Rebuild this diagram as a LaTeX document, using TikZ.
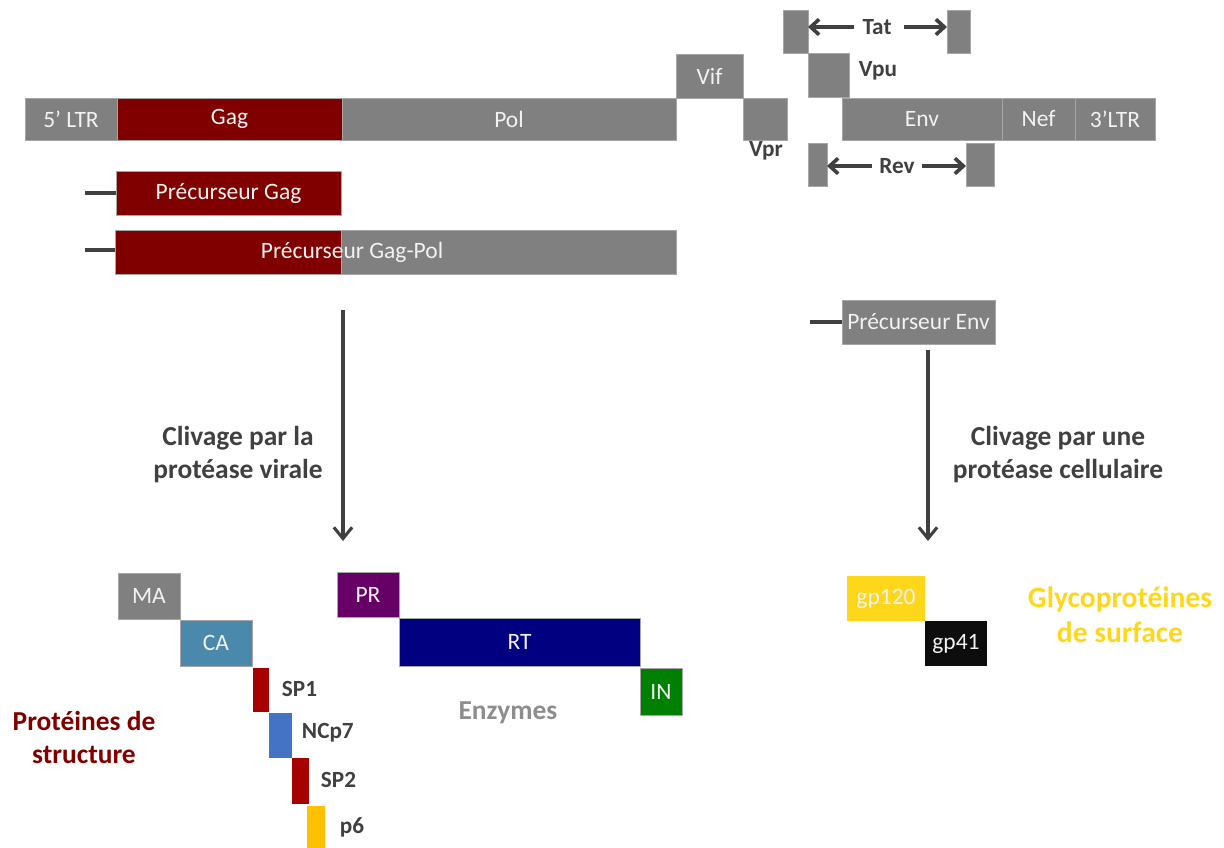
\documentclass[tikz,border=0pt]{standalone}
\usepackage{fontspec}
\setmainfont{Carlito}
\usetikzlibrary{arrows.meta}
\definecolor{segray}{HTML}{808080}
\definecolor{boxline}{HTML}{A6A6A6}
\definecolor{gagred}{HTML}{800000}
\definecolor{spred}{HTML}{A60000}
\definecolor{cablue}{HTML}{4A89AC}
\definecolor{ncblue}{HTML}{4472C4}
\definecolor{psix}{HTML}{FFC000}
\definecolor{prpurple}{HTML}{660066}
\definecolor{rtnavy}{HTML}{000080}
\definecolor{ingreen}{HTML}{008000}
\definecolor{gpyellow}{HTML}{FFD71A}
\definecolor{txtdark}{HTML}{404040}
\newcommand{\gbox}[7]{% name, x1, y1, x2, y2, options, text
\node[box,#6,anchor=north west,minimum width={(#4-#2)*0.025cm},
  minimum height={(#5-#3)*0.025cm}] (#1) at (#2,#3) {#7};
}

\begin{document}
\begin{tikzpicture}[x=0.025cm,y=-0.025cm,
  box/.style={draw=boxline,line width=0.7pt,inner sep=0pt,outer sep=0pt,
    fill=segray,text=white!95!black,font=\fontsize{16.7}{19}\selectfont},
  lbl/.style={text=txtdark,font=\fontsize{19.5}{23.5}\selectfont\bfseries,align=center},
  tag/.style={text=txtdark,font=\fontsize{16.5}{19}\selectfont\bfseries},
  stub/.style={draw=txtdark,line width=3.5pt},
  cut/.style={draw=txtdark,line width=2.2pt,-{Straight Barb[length=8pt,width=13pt]}},
  span/.style={draw=txtdark,line width=2.6pt,-{Straight Barb[length=6pt,width=11pt]}}]
\useasboundingbox (0,0) rectangle (1224,848);

%%%%% genome
\gbox{ltrfive}{25}{98}{117}{140}{}{5’ LTR}
\gbox{gag}{117}{98}{342}{140}{fill=gagred}{Gag}
\gbox{pol}{342}{98}{676}{140}{}{Pol}
\gbox{vif}{676}{54}{743}{98}{}{Vif}
\gbox{vpr}{743}{98}{787}{140}{}{}
\gbox{tatL}{783}{10}{808}{53}{}{}
\gbox{tatR}{947}{10}{970}{53}{}{}
\gbox{vpu}{808}{53}{849}{97}{}{}
\gbox{env}{842}{98}{1002}{140}{}{Env}
\gbox{nef}{1002}{98}{1075}{140}{}{Nef}
\gbox{ltrthree}{1075}{98}{1155}{140}{}{3’LTR}
\gbox{revL}{808}{143}{827}{186}{}{}
\gbox{revR}{966}{143}{994}{186}{}{}

\node[tag] (vprlbl) at (766,151) {Vpr};
\node[tag,anchor=west] (vpulbl) at (854,71) {Vpu};
\node[tag] (tat) at (877,27) {Tat};
\node[tag] (rev) at (897,166) {Rev};
\draw[span] (tat.west) ++(-4,0) -- (tatL.east |- tat.west);
\draw[span] (tat.east) ++(8,0) -- (tatR.west |- tat.east);
\draw[span] (rev.west) ++(-2,0) -- (revL.east |- rev.west);
\draw[span] (rev.east) ++(2,0) -- (revR.west |- rev.east);

%%%%% precursors
\gbox{pgag}{116}{171}{341}{215}{fill=gagred}{Précurseur Gag}
\gbox{pgpA}{115}{230}{341}{274}{fill=gagred}{}
\gbox{pgpB}{341}{230}{676}{274}{}{}
\node[font=\fontsize{16.7}{19}\selectfont,text=white!95!black] (pgplbl) at (352,252) {Précurseur Gag-Pol};
\gbox{penv}{842}{300}{995}{344}{}{Précurseur Env}

\coordinate (stubgag) at (85,193);
\coordinate (stubgp) at (85,250);
\coordinate (stubenv) at (810,322);
\draw[stub] (stubgag) -- (stubgag -| pgag.west);
\draw[stub] (stubgp) -- (stubgp -| pgpA.west);
\draw[stub] (stubenv) -- (stubenv -| penv.west);

%%%%% cleavage
\coordinate (cutAtop) at (343,310);
\coordinate (cutAbot) at (343,541);
\coordinate (cutBtop) at (928,350);
\coordinate (cutBbot) at (928,541);
\draw[cut] (cutAtop) -- (cutAbot);
\draw[cut] (cutBtop) -- (cutBbot);
\node[lbl] (viral) at (238,455) {Clivage par la\\protéase virale};
\node[lbl] (cell) at (1058,455) {Clivage par une\\protéase cellulaire};

%%%%% structure proteins
\gbox{ma}{118}{573}{180}{619}{}{MA}
\gbox{ca}{180}{620}{252}{666}{fill=cablue}{CA}
\gbox{spone}{253}{668}{269}{712}{fill=spred,draw=none}{}
\gbox{nc}{269}{713}{292}{758}{fill=ncblue,draw=none}{}
\gbox{sptwo}{292}{758}{309}{804}{fill=spred,draw=none}{}
\gbox{psix}{307}{806}{325}{848}{fill=psix,draw=none}{}
\node[tag,anchor=west] (sponelbl) at (277,689) {SP1};
\node[tag,anchor=west] (nclbl) at (297,733) {NCp7};
\node[tag,anchor=west] (sptwolbl) at (316,780) {SP2};
\node[tag,anchor=west] (psixlbl) at (335,827) {p6};
\node[lbl,text=gagred] (structlbl) at (84,737) {Protéines de\\structure};

%%%%% enzymes
\gbox{pr}{337}{572}{399}{617}{fill=prpurple}{PR}
\gbox{rt}{399}{618}{640}{666}{fill=rtnavy}{RT}
\gbox{in}{640}{668}{682}{715}{fill=ingreen}{IN}
\node[lbl,text=segray!90] (enzlbl) at (508,713) {Enzymes};

%%%%% envelope
\gbox{gpa}{847}{576}{925}{621}{fill=gpyellow,draw=none}{gp120}
\gbox{gpb}{925}{621}{987}{666}{fill=black!95,draw=none}{gp41}
\node[lbl,text=gpyellow,font=\fontsize{21}{25}\selectfont\bfseries] (glyco) at (1120,615) {Glycoprotéines\\de surface};
\end{tikzpicture}
\end{document}
